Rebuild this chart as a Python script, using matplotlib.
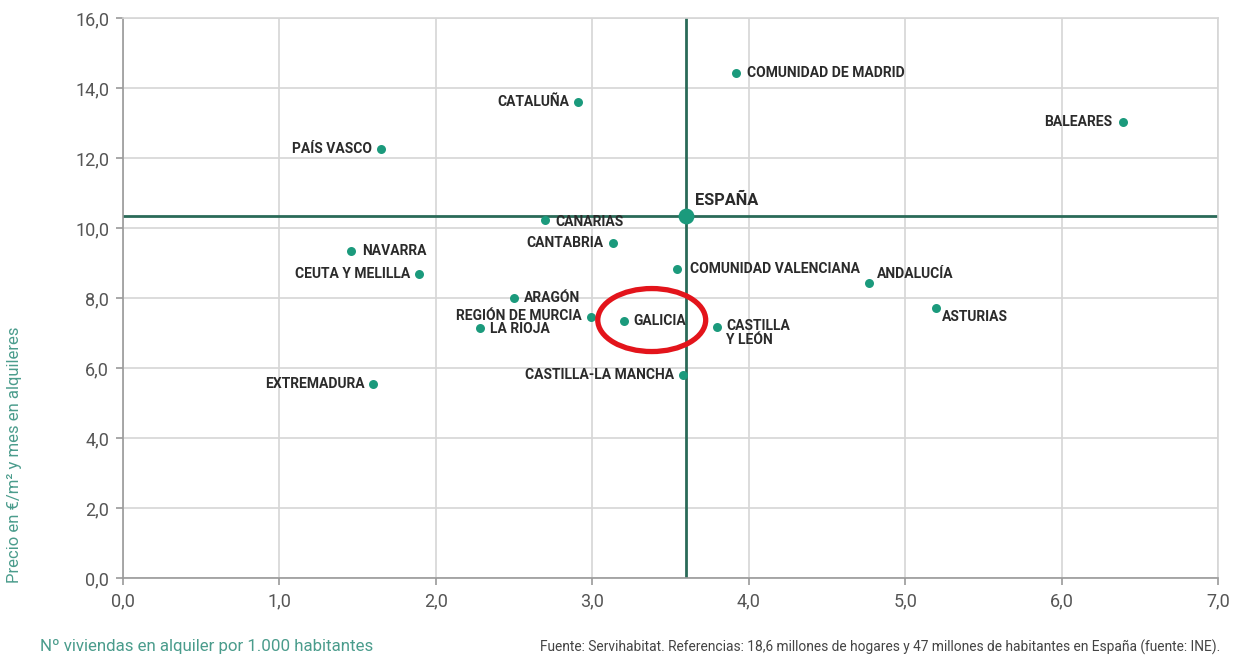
import numpy as np
import matplotlib.pyplot as plt
from matplotlib.patches import Ellipse
from matplotlib.ticker import FuncFormatter

plt.rcParams['font.family'] = ['Roboto', 'DejaVu Sans']

# viviendas en alquiler por 1.000 hab. / precio en €/m2 y mes
regiones = ['COMUNIDAD DE MADRID', 'CATALUÑA', 'BALEARES', 'PAÍS VASCO', 'CANARIAS',
            'CANTABRIA', 'NAVARRA', 'COMUNIDAD VALENCIANA', 'CEUTA Y MELILLA', 'ANDALUCÍA',
            'ARAGÓN', 'ASTURIAS', 'REGIÓN DE MURCIA', 'GALICIA', 'LA RIOJA',
            'CASTILLA\nY LEÓN', 'CASTILLA-LA MANCHA', 'EXTREMADURA']
viviendas = [3.92, 2.91, 6.39, 1.65, 2.70,
             3.13, 1.46, 3.54, 1.89, 4.77,
             2.50, 5.20, 2.99, 3.20, 2.28,
             3.80, 3.58, 1.60]
precio = [14.43, 13.60, 13.03, 12.26, 10.23,
          9.57, 9.34, 8.83, 8.69, 8.43,
          8.00, 7.71, 7.46, 7.34, 7.14,
          7.17, 5.80, 5.54]

espana_viviendas = 3.60
espana_precio = 10.34

# colocación de etiquetas: (dx, dy en píxeles, alineación)
etiquetas = {
    'COMUNIDAD DE MADRID': (11, 0, 'left'),
    'CATALUÑA': (-9, 0, 'right'),
    'BALEARES': (-10, 0, 'right'),
    'PAÍS VASCO': (-9, 0, 'right'),
    'CANARIAS': (10, -2, 'left'),
    'CANTABRIA': (-9, 0, 'right'),
    'NAVARRA': (11, 0, 'left'),
    'COMUNIDAD VALENCIANA': (13, 0, 'left'),
    'CEUTA Y MELILLA': (-8, 0, 'right'),
    'ANDALUCÍA': (8, 9, 'left'),
    'ARAGÓN': (10, 0, 'left'),
    'ASTURIAS': (6, -9, 'left'),
    'REGIÓN DE MURCIA': (-9, 1, 'right'),
    'GALICIA': (10, 0, 'left'),
    'LA RIOJA': (10, -1, 'left'),
    'CASTILLA\nY LEÓN': (9, 0, 'left'),
    'CASTILLA-LA MANCHA': (-9, 0, 'right'),
    'EXTREMADURA': (-9, 0, 'right'),
}

verde = '#1b9a7c'
linea = '#2a6a58'
teal_txt = '#4a9c8c'

fig = plt.figure(figsize=(12.38, 6.55), dpi=100)
ax = fig.add_axes([0.0994, 0.1176, 0.8844, 0.8549])

ax.set_xlim(0, 7)
ax.set_ylim(0, 16)
ax.set_xticks(np.arange(0, 7.1, 1))
ax.set_yticks(np.arange(0, 16.1, 2))
fmt = FuncFormatter(lambda v, p: f'{v:.1f}'.replace('.', ','))
ax.xaxis.set_major_formatter(fmt)
ax.yaxis.set_major_formatter(fmt)
ax.grid(True, color='#d6d6d6', linewidth=1.2)
ax.set_axisbelow(True)
for s in ax.spines.values():
    s.set_color('#d6d6d6')
    s.set_linewidth(1.2)
ax.spines['left'].set_color('#9a9a9a')
ax.spines['bottom'].set_color('#9a9a9a')
ax.tick_params(colors='#9a9a9a', labelcolor='#555555', labelsize=13, length=5, width=1.2, pad=5)

ax.axhline(espana_precio, color=linea, linewidth=2, zorder=2)
ax.axvline(espana_viviendas, color=linea, linewidth=2, zorder=2)

ax.scatter(viviendas, precio, s=42, color=verde, zorder=3, linewidths=0)
ax.scatter([espana_viviendas], [espana_precio], s=130, color=verde, zorder=3, linewidths=0)
ax.annotate('ESPAÑA', (espana_viviendas, espana_precio), xytext=(9, 16),
            textcoords='offset pixels', ha='left', va='center',
            fontsize=11.8, fontweight='bold', color='#2b2b2b')

for nombre, x, y in zip(regiones, viviendas, precio):
    dx, dy, ha = etiquetas[nombre]
    va = 'top' if '\n' in nombre else 'center'
    off_y = dy + 8 if '\n' in nombre else dy
    ax.annotate(nombre, (x, y), xytext=(dx, off_y), textcoords='offset pixels',
                ha=ha, va=va, fontsize=10, fontweight='bold', color='#2b2b2b',
                linespacing=1.0, zorder=4)

# marca sobre Galicia
ax.add_patch(Ellipse((3.38, 7.37), 0.69, 1.80, fill=False, edgecolor='#e3141b',
                     linewidth=3.8, zorder=5))

fig.text(15 / 1238, 1 - 455 / 655, 'Precio en €/m² y mes en alquileres', rotation=90,
         ha='center', va='center', fontsize=12, color=teal_txt)
fig.text(40 / 1238, 1 - 647 / 655, 'Nº viviendas en alquiler por 1.000 habitantes',
         ha='left', va='center', fontsize=12.2, color=teal_txt)
fig.text(1220 / 1238, 1 - 647 / 655,
         'Fuente: Servihabitat. Referencias: 18,6 millones de hogares y 47 millones de habitantes en España (fuente: INE).',
         ha='right', va='center', fontsize=9.9, color='#444444')

fig.savefig('out.png', dpi=100, facecolor='white')
